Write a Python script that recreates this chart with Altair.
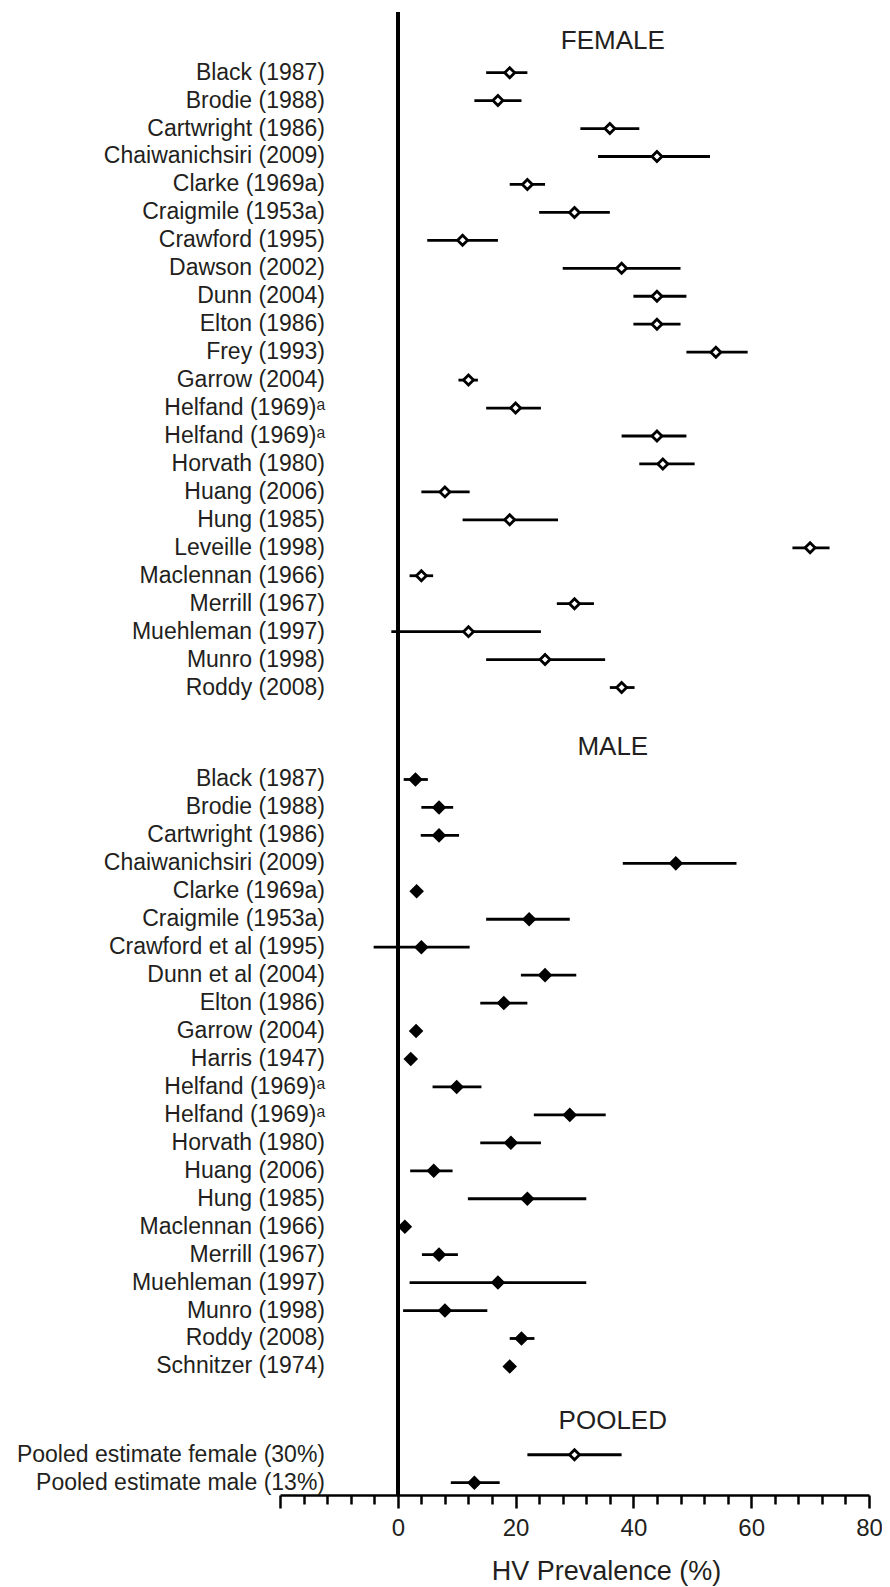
import altair as alt
import pandas as pd

# ---------------- data ----------------
female_labels = ["Black (1987)", "Brodie (1988)", "Cartwright (1986)", "Chaiwanichsiri (2009)",
                 "Clarke (1969a)", "Craigmile (1953a)", "Crawford (1995)", "Dawson (2002)",
                 "Dunn (2004)", "Elton (1986)", "Frey (1993)", "Garrow (2004)",
                 "Helfand (1969)\u1d43", "Helfand (1969)\u1d43", "Horvath (1980)", "Huang (2006)",
                 "Hung (1985)", "Leveille (1998)", "Maclennan (1966)", "Merrill (1967)",
                 "Muehleman (1997)", "Munro (1998)", "Roddy (2008)"]
female_est = [19, 17, 36, 44, 22, 30, 11, 38, 44, 44, 54, 12, 20, 44, 45, 8, 19, 70, 4, 30, 12, 25, 38]
female_lo = [15, 13, 31, 34, 19, 24, 5, 28, 40, 40, 49, 10.3, 15, 38, 41, 4, 11, 67, 2, 27, -1.1, 15, 36]
female_hi = [22, 21, 41, 53, 25, 36, 17, 48, 49, 48, 59.4, 13.6, 24.3, 49, 50.4, 12.2, 27.2, 73.3, 6, 33.3, 24.3, 35.2, 40.2]

male_labels = ["Black (1987)", "Brodie (1988)", "Cartwright (1986)", "Chaiwanichsiri (2009)",
               "Clarke (1969a)", "Craigmile (1953a)", "Crawford et al (1995)", "Dunn et al (2004)",
               "Elton (1986)", "Garrow (2004)", "Harris (1947)", "Helfand (1969)\u1d43",
               "Helfand (1969)\u1d43", "Horvath (1980)", "Huang (2006)", "Hung (1985)",
               "Maclennan (1966)", "Merrill (1967)", "Muehleman (1997)", "Munro (1998)",
               "Roddy (2008)", "Schnitzer (1974)"]
male_est = [3, 7, 7, 47.2, 3.2, 22.3, 4, 25, 18, 3.1, 2.2, 10, 29.2, 19.2, 6.1, 22, 1.2, 7, 17, 8, 21, 19]
male_lo = [1, 4, 3.9, 38.2, 2.4, 15, -4.1, 20.9, 14, 3.1, 2.2, 5.9, 23.1, 14, 2.1, 11.9, 1.2, 4.1, 2, 0.9, 19, 19]
male_hi = [5.1, 9.4, 10.4, 57.5, 4.0, 29.2, 12.2, 30.3, 22, 3.1, 2.2, 14.2, 35.3, 24.3, 9.3, 32, 1.2, 10.2, 32, 15.2, 23.2, 19]

pooled_labels = ["Pooled estimate female (30%)", "Pooled estimate male (13%)"]
pooled_est = [30, 13]
pooled_lo = [22, 9]
pooled_hi = [38, 17.3]
pooled_kind = ["open", "filled"]

section_titles = ["FEMALE", "MALE", "POOLED"]

# ---------------- layout (row units) ----------------
FEMALE_START, MALE_START, POOLED_START = 0.0, 25.29, 49.45
HEADER_ROWS = [-1.13, 24.14, 48.24]
HEADER_X = 36.5

rows = []
for i, (l, e, lo, hi) in enumerate(zip(female_labels, female_est, female_lo, female_hi)):
    rows.append(dict(label=l, est=e, lo=lo, hi=hi, kind="open", row=FEMALE_START + i))
for i, (l, e, lo, hi) in enumerate(zip(male_labels, male_est, male_lo, male_hi)):
    rows.append(dict(label=l, est=e, lo=lo, hi=hi, kind="filled", row=MALE_START + i))
for i, (l, e, lo, hi, k) in enumerate(zip(pooled_labels, pooled_est, pooled_lo, pooled_hi, pooled_kind)):
    rows.append(dict(label=l, est=e, lo=lo, hi=hi, kind=k, row=POOLED_START + i))
df = pd.DataFrame(rows)
headers = pd.DataFrame({"title": section_titles, "row": HEADER_ROWS})

FONT = "Liberation Sans, Arial, Helvetica, sans-serif"
TEXT = "#231f20"

xscale = alt.Scale(domain=[-20, 80], nice=False, zero=False)
yscale = alt.Scale(domain=[-2.17, 50.89], reverse=True, nice=False, zero=False)

xaxis = alt.Axis(
    values=list(range(-20, 81, 4)),
    labelExpr="datum.value >= 0 && datum.value % 20 == 0 ? datum.label : ''",
    tickSize={"condition": {"test": "datum.value % 20 == 0", "value": 13}, "value": 9},
    tickWidth=2.5, tickColor="black",
    domainWidth=2.5, domainColor="black",
    labelFont=FONT, labelFontSize=24, labelColor=TEXT, labelPadding=8,
    labelOverlap=False, labelFlush=False, labelBound=False,
    title="HV Prevalence (%)", titleFont=FONT, titleFontSize=27,
    titleFontWeight="normal", titleColor=TEXT,
    titleX=326, titleY=84, titleAlign="center", titleBaseline="alphabetic",
    grid=False,
)

base = alt.Chart(df)

bars = base.mark_rule(strokeWidth=2.8, color="black").encode(
    x=alt.X("lo:Q", scale=xscale, axis=xaxis),
    x2="hi:Q",
    y=alt.Y("row:Q", scale=yscale, axis=None),
)

zero = base.mark_rule(strokeWidth=2.8, color="black").encode(
    x=alt.X(datum=0, scale=xscale, axis=xaxis))

open_pts = base.transform_filter(alt.datum.kind == "open").mark_point(
    shape="diamond", filled=True, fill="white", stroke="black", strokeWidth=2.8,
    size=100, opacity=1,
).encode(x=alt.X("est:Q", scale=xscale, axis=xaxis),
         y=alt.Y("row:Q", scale=yscale, axis=None))

filled_pts = base.transform_filter(alt.datum.kind == "filled").mark_point(
    shape="diamond", filled=True, fill="black", stroke="black", strokeWidth=1.5,
    size=155, opacity=1,
).encode(x=alt.X("est:Q", scale=xscale, axis=xaxis),
         y=alt.Y("row:Q", scale=yscale, axis=None))

labels = base.mark_text(align="right", baseline="middle", font=FONT, fontSize=23,
                        color=TEXT).encode(
    x=alt.value(45), y=alt.Y("row:Q", scale=yscale, axis=None), text="label:N")

head = alt.Chart(headers).mark_text(align="center", baseline="middle", font=FONT,
                                    fontSize=26, color=TEXT).encode(
    x=alt.X(datum=HEADER_X, scale=xscale, axis=xaxis),
    y=alt.Y("row:Q", scale=yscale, axis=None), text="title:N")

chart = alt.layer(bars, zero, open_pts, filled_pts, labels, head).properties(
    width=589, height=1483,
    autosize=alt.AutoSizeParams(type="none"),
    padding={"left": 272, "top": 4, "right": 13, "bottom": 100},
).configure_view(stroke=None).configure_axisX(labelOverlap=False)

chart.save("out.html", embed_options={"renderer": "svg", "actions": False})
